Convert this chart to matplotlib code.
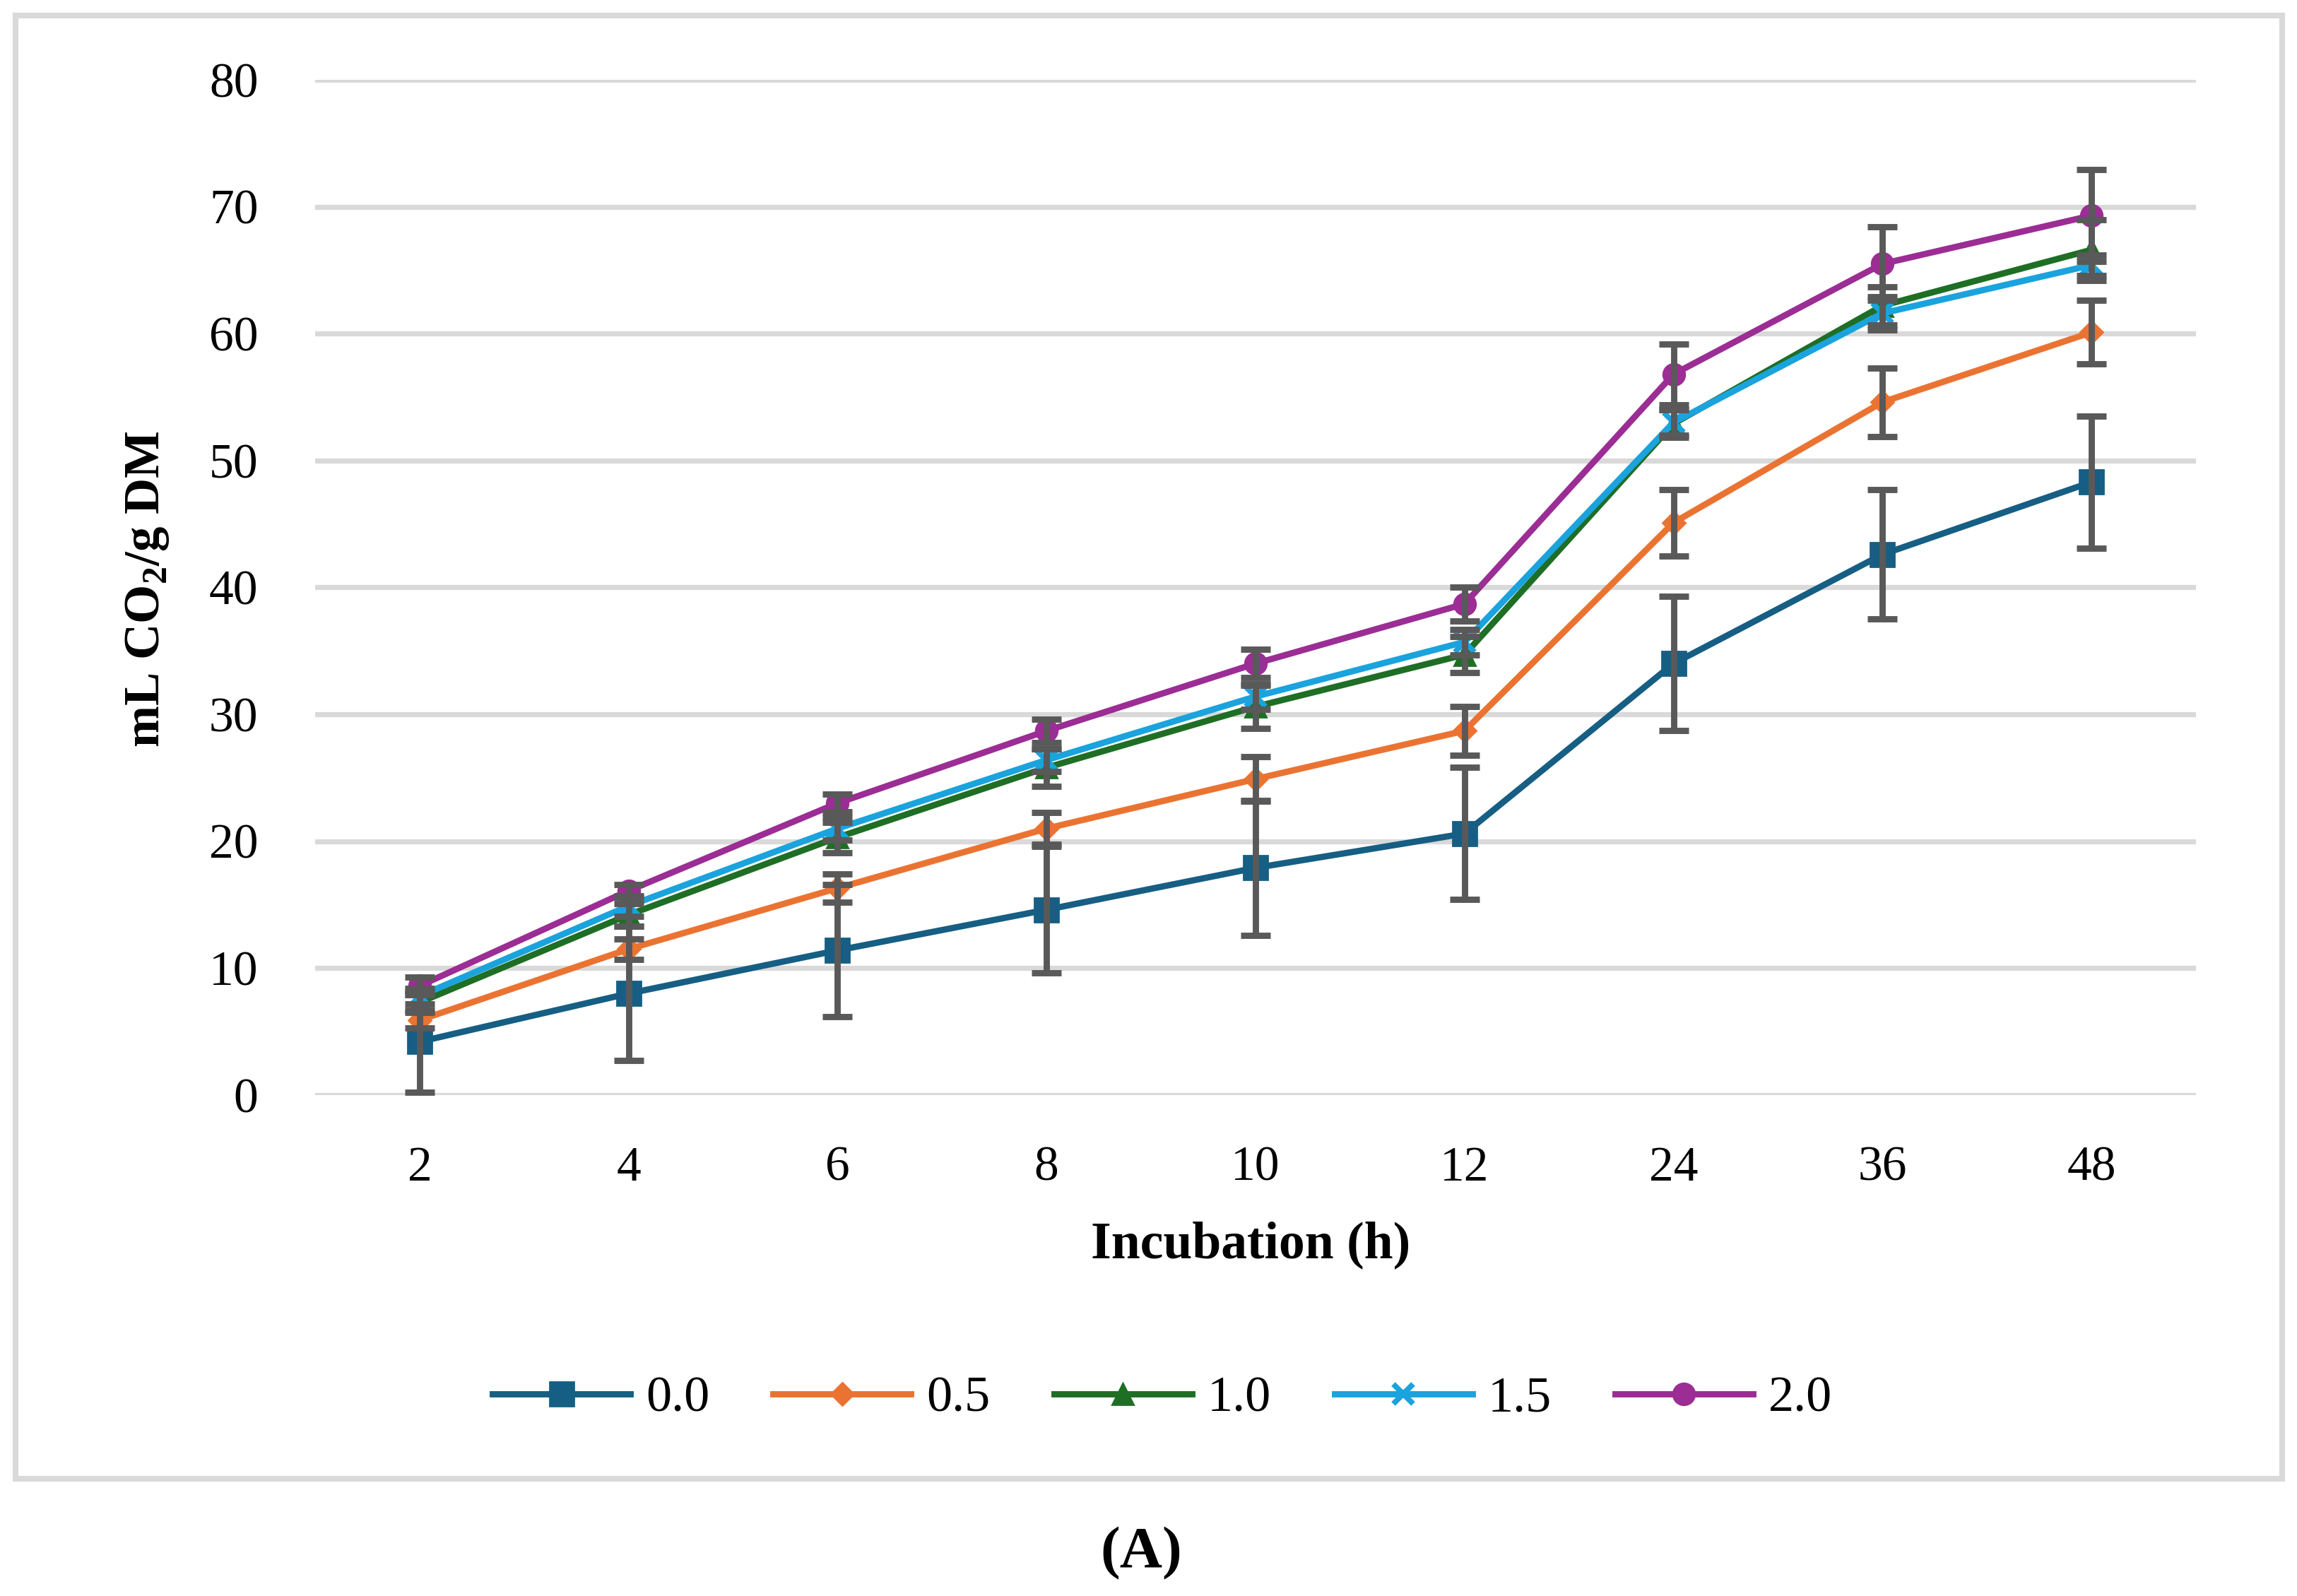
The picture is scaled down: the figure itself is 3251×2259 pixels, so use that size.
import matplotlib
matplotlib.use("Agg")
import matplotlib.pyplot as plt
from matplotlib.patches import Rectangle

plt.rcParams["font.family"] = ["Liberation Serif", "DejaVu Serif"]
plt.rcParams["mathtext.fontset"] = "custom"
plt.rcParams["mathtext.rm"] = "Liberation Serif"
plt.rcParams["mathtext.bf"] = "Liberation Serif:bold"

hours = ["2", "4", "6", "8", "10", "12", "24", "36", "48"]
doses = ["0.0", "0.5", "1.0", "1.5", "2.0"]

co2_00 = [4.2, 8.0, 11.4, 14.6, 17.9, 20.6, 34.0, 42.6, 48.3]
co2_05 = [5.9, 11.5, 16.3, 21.0, 24.9, 28.7, 45.1, 54.6, 60.1]
co2_10 = [7.3, 14.2, 20.3, 25.8, 30.6, 34.7, 52.9, 62.2, 66.6]
co2_15 = [7.8, 14.9, 21.0, 26.4, 31.4, 35.7, 53.0, 61.6, 65.4]
co2_20 = [8.6, 16.1, 23.0, 28.7, 34.0, 38.7, 56.8, 65.5, 69.3]

err_00 = [4.0, 5.3, 5.2, 5.0, 5.3, 5.2, 5.3, 5.1, 5.2]
err_05 = [0.6, 0.8, 1.1, 1.25, 1.75, 1.9, 2.6, 2.7, 2.5]
err_10 = [0.6, 0.9, 1.2, 1.5, 1.7, 1.4, 1.1, 1.5, 2.4]
err_15 = [0.6, 0.8, 0.9, 0.9, 1.0, 1.0, 1.0, 1.3, 0.8]
err_20 = [0.7, 0.5, 0.7, 0.9, 1.1, 1.35, 2.4, 2.9, 3.6]

series = [co2_00, co2_05, co2_10, co2_15, co2_20]
errors = [err_00, err_05, err_10, err_15, err_20]
colors = ["#165E83", "#EB7332", "#1F6E25", "#1AA3DD", "#9B2D94"]
markers = ["s", "D", "^", "x", "o"]
msizes = [12.5, 8, 11, 10, 11]

fig = plt.figure(figsize=(16.255, 11.295), dpi=200)
ax = fig.add_axes([0.1372, 0.3139, 0.956 - 0.1372, 0.950 - 0.3139])

x = list(range(len(hours)))
for vals, errs, col, mk, ms, lab in zip(series, errors, colors, markers, msizes, doses):
    ax.plot(x, vals, color=col, lw=3.2, marker=mk, ms=ms, mew=2.8 if mk == "x" else 1,
            mec=col, mfc=col, label=lab, zorder=3)
    ax.errorbar(x, vals, yerr=errs, fmt="none", ecolor="#595959", elinewidth=3.2,
                capsize=7.7, capthick=3.2, zorder=4)

ax.set_xlim(-0.5, len(hours) - 0.5)
ax.set_ylim(0, 80)
ax.set_yticks(range(0, 81, 10))
ax.set_xticks(x)
ax.set_xticklabels(hours)
ax.tick_params(axis="both", length=0, labelsize=25, colors="black")
ax.tick_params(axis="x", pad=26)
ax.tick_params(axis="y", pad=29)
ax.grid(axis="y", color="#d9d9d9", lw=2.6, zorder=0)
ax.set_axisbelow(True)
for s in ax.spines.values():
    s.set_visible(False)

fig.text(0.5446, 0.212, "Incubation (h)", fontsize=26.5, fontweight="bold",
         ha="center", va="baseline")
fig.text(0.064, 0.631, r"mL CO$_\mathbf{2}$/g DM", fontsize=25.5, fontweight="bold",
         rotation=90, ha="center", va="center")

leg = fig.legend(loc="center", bbox_to_anchor=(0.506, 0.1235), ncol=5, frameon=False,
                 fontsize=26, handlelength=2.7, handletextpad=0.3, columnspacing=1.25,
                 numpoints=1)

fig.patches.append(Rectangle((22 / 3251, 1 - 2093 / 2259), (3230 - 22) / 3251,
                             (2093 - 22) / 2259, transform=fig.transFigure,
                             fill=False, edgecolor="#d9d9d9", lw=2.9))

fig.text(0.497, 0.0266, "(A)", fontsize=30, fontweight="bold", ha="center", va="center")

fig.savefig("out.png", dpi=200, facecolor="white")
